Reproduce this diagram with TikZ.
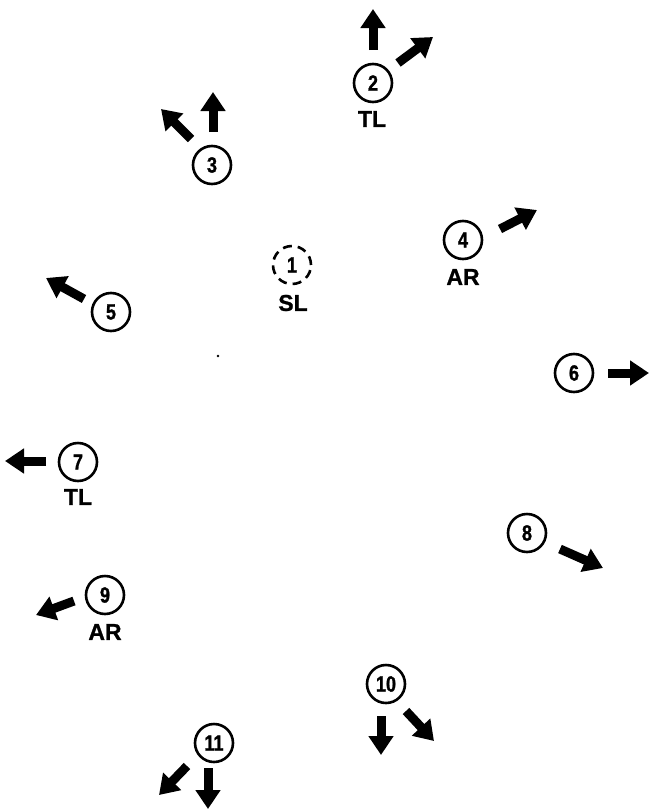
\documentclass[tikz,border=0pt]{standalone}
\usepackage{fontspec}
\setmainfont{Liberation Sans}
\newfontfamily\heavy[FakeBold=1.2,FakeStretch=0.82]{Liberation Sans Bold}
\newfontfamily\heavytag[FakeBold=1.0]{Liberation Sans Bold}
\usetikzlibrary{arrows.meta,positioning}

\begin{document}
\begin{tikzpicture}[x=1pt,y=-1pt,
  num/.style={draw,circle,line width=2.6pt,minimum size=38pt,inner sep=0pt,
    font=\fontsize{22}{22}\heavy},
  tag/.style={inner sep=0pt,font=\fontsize{23}{23}\heavytag},
  blk/.style={line width=9pt,-{Triangle[width=24pt,length=19pt]}}]
\useasboundingbox (0,0) rectangle (649,809);
% stations
\node[num,dash pattern=on 9pt off 6pt] (n1) at (292,265) {1};
\node[num] (n2) at (373,83) {2};
\node[num] (n3) at (212,165) {3};
\node[num] (n4) at (463,240) {4};
\node[num] (n5) at (111,312) {5};
\node[num] (n6) at (574,373) {6};
\node[num] (n7) at (78,462) {7};
\node[num] (n8) at (527,533) {8};
\node[num] (n9) at (105,595) {9};
\node[num] (n10) at (386,684) {10};
\node[num] (n11) at (214,743) {11};
\node[tag] (t1) at (293,303) {SL};
\node[tag] (t2) at (372,119) {TL};
\node[tag] (t4) at (463,277) {AR};
\node[tag] (t7) at (78,497) {TL};
\node[tag] (t9) at (105,632) {AR};
\fill (218,356) circle (1.3pt);
% moves
\coordinate (a2) at (373,50); \coordinate (b2) at (373,9);
\coordinate (c2) at (398,63); \coordinate (d2) at (433,37);
\coordinate (a3) at (213,132); \coordinate (b3) at (213,92);
\coordinate (c3) at (191,139); \coordinate (d3) at (161,109);
\coordinate (a4) at (500,229); \coordinate (b4) at (537,210);
\coordinate (a5) at (84,299); \coordinate (b5) at (46,278);
\coordinate (a6) at (608,373); \coordinate (b6) at (649,373);
\coordinate (a7) at (46,461); \coordinate (b7) at (5,461);
\coordinate (a8) at (560,549); \coordinate (b8) at (603,568);
\coordinate (a9) at (74,601); \coordinate (b9) at (36,615);
\coordinate (a10) at (381,716); \coordinate (b10) at (381,755);
\coordinate (c10) at (406,711); \coordinate (d10) at (434,741);
\coordinate (a11) at (208,768); \coordinate (b11) at (208,809);
\coordinate (c11) at (187,766); \coordinate (d11) at (159,795);
\draw[blk] (a2) -- (b2);
\draw[blk] (c2) -- (d2);
\draw[blk] (a3) -- (b3);
\draw[blk] (c3) -- (d3);
\draw[blk] (a4) -- (b4);
\draw[blk] (a5) -- (b5);
\draw[blk] (a6) -- (b6);
\draw[blk] (a7) -- (b7);
\draw[blk] (a8) -- (b8);
\draw[blk] (a9) -- (b9);
\draw[blk] (a10) -- (b10);
\draw[blk] (c10) -- (d10);
\draw[blk] (a11) -- (b11);
\draw[blk] (c11) -- (d11);
\end{tikzpicture}
\end{document}
